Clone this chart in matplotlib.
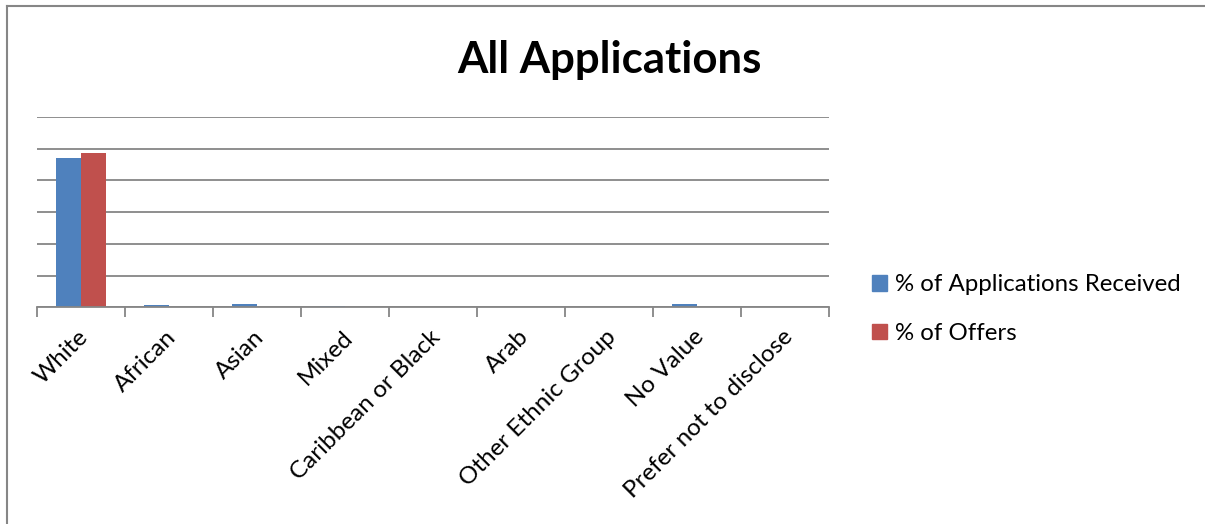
import matplotlib.pyplot as plt
import matplotlib.patches as mpatches
import matplotlib.transforms as mtransforms
import numpy as np

plt.rcParams['font.family'] = ['Lato', 'DejaVu Sans']

groups = ["White", "African", "Asian", "Mixed", "Caribbean or Black", "Arab",
          "Other Ethnic Group", "No Value", "Prefer not to disclose"]
apps_received = [0.94, 0.012, 0.02, 0.008, 0.0, 0.0, 0.0, 0.02, 0.002]
offers = [0.976, 0.0, 0.0, 0.005, 0.0, 0.0, 0.0, 0.0, 0.005]
series_names = ["% of Applications Received", "% of Offers"]

blue = "#4F81BD"
red = "#C0504D"
grey = "#868686"

fig = plt.figure(figsize=(12.05, 5.24), dpi=100)
ax = fig.add_axes([0.0305, 0.4135, 0.6575, 0.3632])

x = np.arange(len(groups))
w = 0.284
ax.bar(x - w / 2, apps_received, w, color=blue, label=series_names[0])
ax.bar(x + w / 2, offers, w, color=red, label=series_names[1])

ax.set_xlim(-0.5, len(groups) - 0.5)
ax.set_ylim(0, 1.2)
ax.set_yticks(np.arange(0, 1.21, 0.2))
ax.yaxis.grid(True, color=grey, linewidth=1.3)
ax.set_axisbelow(True)
ax.tick_params(axis='y', left=False, labelleft=False)

for s in ["top", "right", "left"]:
    ax.spines[s].set_visible(False)
ax.spines["bottom"].set_color(grey)
ax.spines["bottom"].set_linewidth(1.3)

# tick marks sit on the category boundaries, labels on the centres
ax.set_xticks(np.arange(-0.5, len(groups)), labels=[])
ax.tick_params(axis='x', which='major', length=7, width=1.3, color=grey, direction='out')
ax.set_xticks(x, labels=groups, minor=True)
ax.tick_params(axis='x', which='minor', length=0, pad=19, labelsize=17.5)
nudge = mtransforms.ScaledTranslation(4 / 100, 0, fig.dpi_scale_trans)
for lbl in ax.get_xticklabels(minor=True):
    lbl.set_rotation(45)
    lbl.set_ha('right')
    lbl.set_va('center')
    lbl.set_rotation_mode('anchor')
    lbl.set_transform(lbl.get_transform() + nudge)

fig.text(0.506, 0.885, "All Applications", ha='center', va='center',
         fontsize=31.5, fontweight='bold')

handles = [mpatches.Patch(color=blue), mpatches.Patch(color=red)]
fig.legend(handles, series_names, loc='center left', bbox_to_anchor=(0.706, 0.41),
           frameon=False, handlelength=0.6, handleheight=0.6, handletextpad=0.35,
           labelspacing=1.15, fontsize=17.3)

# chart area border (only left and top edges show)
fig.add_artist(plt.Line2D([0.0058, 0.0058], [0, 0.989], color=grey, linewidth=1.5))
fig.add_artist(plt.Line2D([0.0058, 1], [0.989, 0.989], color=grey, linewidth=1.5))

fig.savefig("out.png", dpi=100)
